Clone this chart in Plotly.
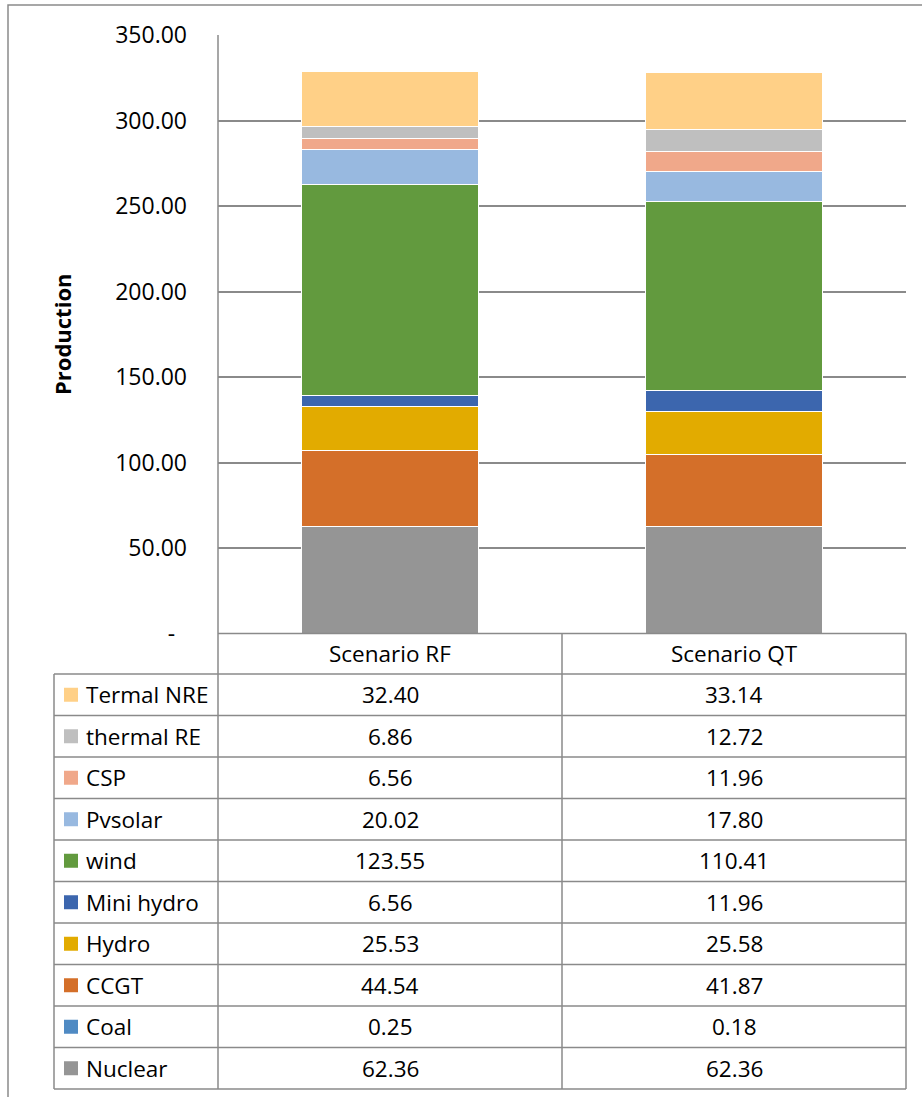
import plotly.graph_objects as go

W, H = 922, 1097

# ---------------- data ----------------
scenarios = ["Scenario RF", "Scenario QT"]

# table order (top to bottom)
series_names = ["Termal NRE", "thermal RE", "CSP", "Pvsolar", "wind",
                "Mini hydro", "Hydro", "CCGT", "Coal", "Nuclear"]

termal_nre = [32.40, 33.14]
thermal_re = [6.86, 12.72]
csp = [6.56, 11.96]
pvsolar = [20.02, 17.80]
wind = [123.55, 110.41]
mini_hydro = [6.56, 11.96]
hydro = [25.53, 25.58]
ccgt = [44.54, 41.87]
coal = [0.25, 0.18]
nuclear = [62.36, 62.36]

series_values = [termal_nre, thermal_re, csp, pvsolar, wind,
                 mini_hydro, hydro, ccgt, coal, nuclear]

series_colors = ["#FFD087", "#BFBFBF", "#F0A88A", "#98B9E0", "#629A3E",
                 "#3C66AE", "#E2AB00", "#D46F29", "#4F8AC3", "#959595"]

tick_vals = [0, 50, 100, 150, 200, 250, 300, 350]
tick_text = ["-\u00a0\u00a0", "50.00", "100.00", "150.00", "200.00",
             "250.00", "300.00", "350.00"]

y_title = "Production"

# ---------------- layout helpers ----------------
FONT = "Open Sans"
LINE = "#8a8a8a"


def px(x):
    return x / W


def py(y):
    return 1 - y / H


plot_left, plot_right = 218, 906
plot_top, plot_bottom = 35, 633.5
table_left = 54
col_div = 562
header_bottom = 674
row_h = 41.5
n_rows = len(series_names)
table_bottom = header_bottom + n_rows * row_h

fig = go.Figure()

# stacked bars: bottom first (Nuclear) up to Termal NRE
for name, vals, col in reversed(list(zip(series_names, series_values, series_colors))):
    fig.add_trace(go.Bar(
        x=scenarios, y=vals, name=name,
        marker=dict(color=col, line=dict(color="white", width=1)),
        hovertemplate="%{x}<br>" + name + ": %{y:.2f}<extra></extra>",
    ))

shapes = []
annotations = []

# outer chart border
shapes.append(dict(type="rect", xref="paper", yref="paper",
                   x0=px(8), x1=1.02, y0=-0.02, y1=py(5),
                   line=dict(color=LINE, width=1.5), layer="below"))

# table grid
def hline(x0, x1, y):
    shapes.append(dict(type="line", xref="paper", yref="paper",
                       x0=px(x0), x1=px(x1), y0=py(y), y1=py(y),
                       line=dict(color=LINE, width=1.5)))


def vline(x, y0, y1):
    shapes.append(dict(type="line", xref="paper", yref="paper",
                       x0=px(x), x1=px(x), y0=py(y0), y1=py(y1),
                       line=dict(color=LINE, width=1.5)))


hline(plot_left, plot_right, plot_bottom)
for i in range(n_rows + 1):
    hline(table_left, plot_right, header_bottom + i * row_h)
vline(plot_left, plot_top, table_bottom)
vline(col_div, plot_bottom, table_bottom)
vline(plot_right, plot_bottom, table_bottom)
vline(table_left, header_bottom, table_bottom)

tfont = dict(family=FONT, size=22.5, color="black")

# header texts
for s in scenarios:
    annotations.append(dict(x=s, xref="x", y=py((plot_bottom + header_bottom) / 2),
                            yref="paper", text=s, showarrow=False, font=tfont,
                            xanchor="center", yanchor="middle"))

# rows
for i, (name, vals, col) in enumerate(zip(series_names, series_values, series_colors)):
    yc = header_bottom + (i + 0.5) * row_h
    shapes.append(dict(type="rect", xref="paper", yref="paper",
                       x0=px(64), x1=px(78), y0=py(yc + 7), y1=py(yc - 7),
                       fillcolor=col, line=dict(width=0)))
    annotations.append(dict(x=px(84), xref="paper", y=py(yc), yref="paper",
                            text=name, showarrow=False, font=tfont,
                            xanchor="left", yanchor="middle"))
    for s, v in zip(scenarios, vals):
        annotations.append(dict(x=s, xref="x", y=py(yc), yref="paper",
                                text=f"{v:.2f}", showarrow=False, font=tfont,
                                xanchor="center", yanchor="middle"))

# y-axis title
annotations.append(dict(x=px(62), xref="paper", y=py(335), yref="paper",
                        text=f"<b>{y_title}</b>", textangle=-90, showarrow=False,
                        font=dict(family=FONT, size=22, color="black"),
                        xanchor="center", yanchor="middle"))

fig.update_layout(
    width=W, height=H,
    margin=dict(l=0, r=0, t=0, b=0, pad=0, autoexpand=False),
    paper_bgcolor="white", plot_bgcolor="white",
    barmode="stack", bargap=0.488,
    showlegend=False,
    font=dict(family=FONT, size=22, color="black"),
    xaxis=dict(domain=[px(plot_left), px(plot_right)], showticklabels=False,
               showgrid=False, zeroline=False, showline=False, fixedrange=True,
               automargin=False),
    yaxis=dict(domain=[py(plot_bottom), py(plot_top)], range=[0, 350],
               tickvals=tick_vals, ticktext=tick_text,
               tickfont=dict(family=FONT, size=23, color="black"),
               ticklabelstandoff=30, automargin=False,
               showgrid=True, gridcolor=LINE, gridwidth=1.5,
               zeroline=False, showline=False, fixedrange=True),
    shapes=shapes,
    annotations=annotations,
)

fig.write_html("out.html")
